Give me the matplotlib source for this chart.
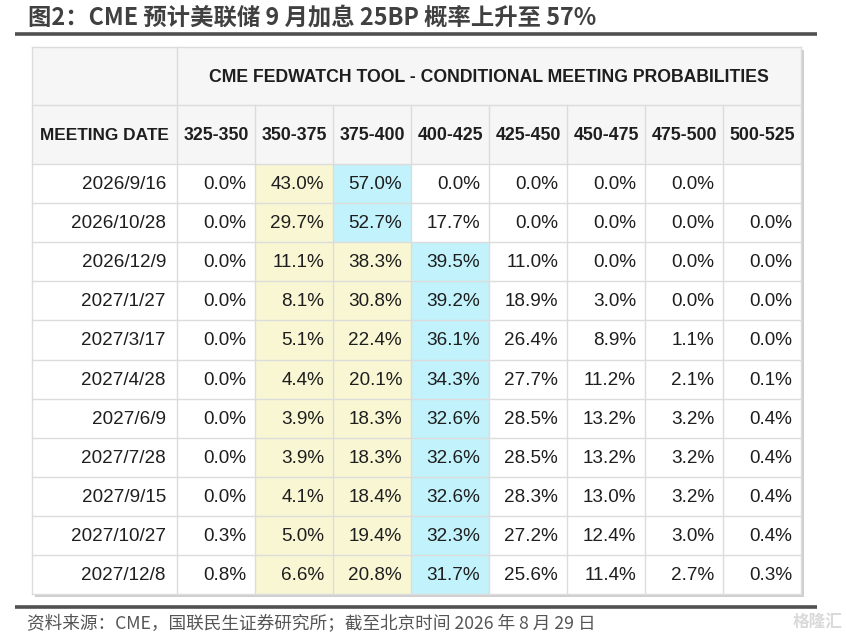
import matplotlib
matplotlib.use('Agg')
import matplotlib.pyplot as plt
from matplotlib.patches import Rectangle

plt.rcParams['font.family'] = ['Liberation Sans', 'Noto Sans CJK SC', 'DejaVu Sans']

title = "图2：CME 预计美联储 9 月加息 25BP 概率上升至 57%"
source = "资料来源：CME，国联民生证券研究所；截至北京时间 2026 年 8 月 29 日"
table_title = "CME FEDWATCH TOOL - CONDITIONAL MEETING PROBABILITIES"
first_header = "MEETING DATE"

bins = ["325-350", "350-375", "375-400", "400-425",
        "425-450", "450-475", "475-500", "500-525"]
dates = ["2026/9/16", "2026/10/28", "2026/12/9", "2027/1/27", "2027/3/17",
         "2027/4/28", "2027/6/9", "2027/7/28", "2027/9/15", "2027/10/27",
         "2027/12/8"]
probs = [
    [0.0, 43.0, 57.0, 0.0, 0.0, 0.0, 0.0, None],
    [0.0, 29.7, 52.7, 17.7, 0.0, 0.0, 0.0, 0.0],
    [0.0, 11.1, 38.3, 39.5, 11.0, 0.0, 0.0, 0.0],
    [0.0, 8.1, 30.8, 39.2, 18.9, 3.0, 0.0, 0.0],
    [0.0, 5.1, 22.4, 36.1, 26.4, 8.9, 1.1, 0.0],
    [0.0, 4.4, 20.1, 34.3, 27.7, 11.2, 2.1, 0.1],
    [0.0, 3.9, 18.3, 32.6, 28.5, 13.2, 3.2, 0.4],
    [0.0, 3.9, 18.3, 32.6, 28.5, 13.2, 3.2, 0.4],
    [0.0, 4.1, 18.4, 32.6, 28.3, 13.0, 3.2, 0.4],
    [0.3, 5.0, 19.4, 32.3, 27.2, 12.4, 3.0, 0.4],
    [0.8, 6.6, 20.8, 31.7, 25.6, 11.4, 2.7, 0.3],
]
# current target range columns (yellow); row maximum is shown in cyan
current_cols = [1, 2]

W, H = 846, 636
fig = plt.figure(figsize=(W / 100, H / 100), dpi=100)
ax = fig.add_axes([0, 0, 1, 1])
ax.set_xlim(0, W)
ax.set_ylim(H, 0)
ax.axis('off')

# layout in pixels
left, top = 32, 47
first_w, col_w = 145, 78
head1_h, head2_h, row_h = 58, 59, 39.1
n_rows, n_cols = len(dates), len(bins)
right = left + first_w + col_w * n_cols
bottom = top + head1_h + head2_h + row_h * n_rows

grid = '#dcdcdc'
head_bg = '#f6f6f6'
yellow = '#f9f7d3'
cyan = '#c2f2fb'
txt = '#1e1e1e'
cjk = ['Noto Sans CJK SC', 'DejaVu Sans']

# title and rules
ax.text(28, 18, title, fontsize=16.8, fontweight='bold', color='#404040',
        family=cjk, va='center', ha='left')
ax.plot([15, 817], [33.5, 33.5], color='#505050', lw=2.6, solid_capstyle='butt')
ax.plot([15, 817], [607, 607], color='#505050', lw=2.6, solid_capstyle='butt')
ax.text(27, 624, source, fontsize=12.7, fontweight='light', color='#555555',
        family=cjk, va='center', ha='left')
ax.text(843, 622, "格隆汇", fontsize=12, color='#dadada', fontweight='bold',
        family=cjk, va='center', ha='right')

# table shadow
ax.add_patch(Rectangle((left + 3, top + 3), right - left, bottom - top,
                       facecolor='#cfcfcf', edgecolor='none', zorder=0))
ax.add_patch(Rectangle((left, top), right - left, bottom - top,
                       facecolor='white', edgecolor='none', zorder=1))

# header backgrounds
ax.add_patch(Rectangle((left, top), right - left, head1_h + head2_h,
                       facecolor=head_bg, edgecolor='none', zorder=1))

y0 = top + head1_h + head2_h
for i in range(n_rows):
    row = probs[i]
    vals = [v for v in row if v is not None]
    best = row.index(max(vals))
    for j in range(n_cols):
        color = None
        if j == best:
            color = cyan
        elif j in current_cols:
            color = yellow
        if color:
            ax.add_patch(Rectangle((left + first_w + j * col_w, y0 + i * row_h),
                                   col_w, row_h, facecolor=color,
                                   edgecolor='none', zorder=1))

# grid lines
def hline(y, x1=left, x2=right):
    ax.plot([x1, x2], [y, y], color=grid, lw=1, zorder=2)

def vline(x, y1, y2):
    ax.plot([x, x], [y1, y2], color=grid, lw=1, zorder=2)

hline(top)
hline(top + head1_h)
for i in range(n_rows + 1):
    hline(y0 + i * row_h)
vline(left, top, bottom)
vline(right, top, bottom)
vline(left + first_w, top, bottom)
for j in range(1, n_cols):
    vline(left + first_w + j * col_w, top + head1_h, bottom)

# header text
ax.text(left + first_w + col_w * n_cols / 2, top + head1_h / 2 + 1, table_title,
        fontsize=12.7, fontweight='bold', color=txt, ha='center', va='center',
        zorder=3)
hy = top + head1_h + head2_h / 2 + 1
ax.text(left + first_w / 2, hy, first_header, fontsize=12.4, fontweight='bold',
        color=txt, ha='center', va='center', zorder=3)
for j, b in enumerate(bins):
    ax.text(left + first_w + (j + 0.5) * col_w, hy, b, fontsize=12.8,
            fontweight='bold', color=txt, ha='center', va='center', zorder=3)

# body text
pad = 9
for i, d in enumerate(dates):
    yc = y0 + (i + 0.5) * row_h + 1
    ax.text(left + first_w - 11, yc, d, fontsize=13.6, color=txt,
            ha='right', va='center', zorder=3)
    for j, v in enumerate(probs[i]):
        if v is None:
            continue
        ax.text(left + first_w + (j + 1) * col_w - pad, yc, f"{v:.1f}%",
                fontsize=13.6, color=txt, ha='right', va='center', zorder=3)

fig.savefig('out.png', dpi=100)
plt.close(fig)
